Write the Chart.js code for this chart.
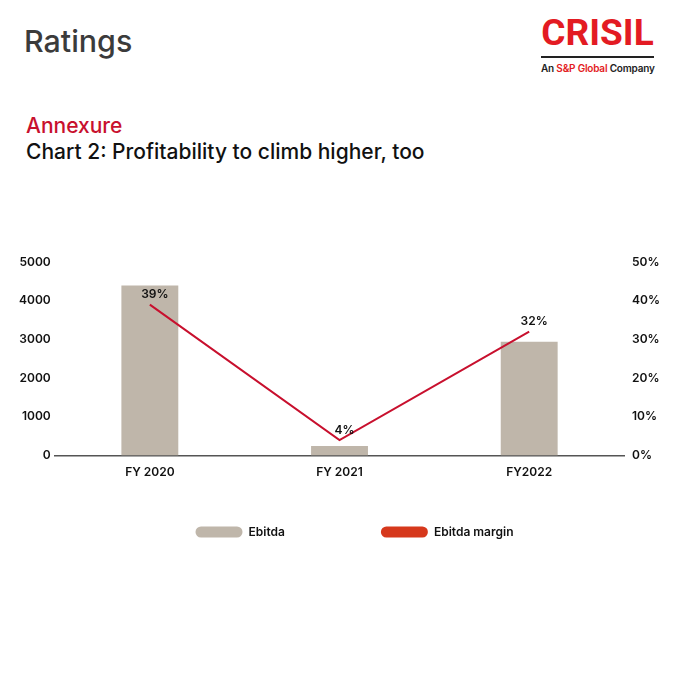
<!DOCTYPE html>
<html lang="en">
<head>
<meta charset="UTF-8">
<title>Chart 2: Profitability to climb higher, too</title>
<script src="https://cdn.jsdelivr.net/npm/chart.js@4.4.1/dist/chart.umd.min.js"></script>
<style>
  html, body { margin: 0; padding: 0; background: #fff; }
  body { width: 680px; height: 680px; position: relative; overflow: hidden; font-family: Inter, Roboto, sans-serif; }
  .txt { position: absolute; white-space: nowrap; line-height: 1; }
  #page-title { left: 24px; top: 26px; font-size: 30.4px; font-weight: 500; color: #3b3b3b; }
  #annex { left: 26px; top: 115px; font-size: 21px; font-weight: 500; color: #c8102e; }
  #chart-title { left: 26px; top: 141px; font-size: 21px; font-weight: 500; color: #111; }
  #logo { position: absolute; left: 541px; top: 14px; width: 113px; text-align: center; white-space: nowrap; }
  #logo .name { font-family: Roboto, sans-serif; font-size: 37px; font-weight: 700; color: #e31b23; line-height: 38px; }
  #logo .rule { height: 2px; background: #222; margin-top: 4px; }
  #logo .sub { font-size: 10px; font-weight: 600; color: #222; margin-top: 4px; letter-spacing: -0.2px; }
  #logo .sub span { color: #e31b23; }
  #wrap { position: absolute; left: 0; top: 240px; width: 680px; height: 320px; }
</style>
</head>
<body>
  <div class="txt" id="page-title">Ratings</div>
  <div id="logo">
    <div class="name">CRISIL</div>
    <div class="rule"></div>
    <div class="sub">An <span>S&amp;P Global</span> Company</div>
  </div>
  <div class="txt" id="annex">Annexure</div>
  <div class="txt" id="chart-title">Chart 2: Profitability to climb higher, too</div>
  <div id="wrap"><canvas id="chart"></canvas></div>

<script>
// values
const categories = ['FY 2020', 'FY 2021', 'FY2022'];
const ebitda = [4390, 250, 2940];
const ebitdaMargin = [39, 4, 32];
const leftTicks = [0, 1000, 2000, 3000, 4000, 5000];
const rightTicks = [0, 10, 20, 30, 40, 50];

const tickFont = { family: 'Inter', size: 12, weight: '600' };

// labels over the line points
const pointLabels = {
  id: 'pointLabels',
  afterDatasetsDraw(chart) {
    const ctx = chart.ctx;
    const meta = chart.getDatasetMeta(1);
    ctx.save();
    ctx.font = '600 12px Inter';
    ctx.fillStyle = '#111';
    ctx.textAlign = 'center';
    ctx.textBaseline = 'bottom';
    meta.data.forEach((pt, i) => {
      ctx.fillText(ebitdaMargin[i] + '%', pt.x + 5, pt.y - 4);
    });
    ctx.restore();
  }
};

new Chart(document.getElementById('chart'), {
  data: {
    labels: categories,
    datasets: [
      {
        type: 'bar',
        label: 'Ebitda',
        data: ebitda,
        backgroundColor: '#bfb6aa',
        yAxisID: 'y',
        categoryPercentage: 1,
        barPercentage: 0.3,
        order: 2
      },
      {
        type: 'line',
        label: 'Ebitda margin',
        data: ebitdaMargin,
        borderColor: '#c8102e',
        backgroundColor: '#d6381c',
        borderWidth: 2,
        pointRadius: 0,
        tension: 0,
        fill: false,
        yAxisID: 'y1',
        order: 1
      }
    ]
  },
  options: {
    responsive: true,
    maintainAspectRatio: false,
    animation: false,
    layout: { padding: { left: 41, right: 12, top: 22, bottom: 12 } },
    scales: {
      x: {
        grid: { display: false, drawTicks: false },
        border: { color: '#555', width: 1.5 },
        ticks: { color: '#111', font: tickFont, padding: 10 }
      },
      y: {
        position: 'left',
        min: 0,
        max: 5000,
        afterBuildTicks: (s) => { s.ticks = leftTicks.map(v => ({ value: v })); },
        afterFit: (s) => { s.width = 14; },
        grid: { display: false, drawTicks: false },
        border: { display: false },
        // mirrored so the labels are not clipped to the narrow axis box
        ticks: { color: '#111', font: tickFont, mirror: true, crossAlign: 'far', padding: -36, callback: (v) => String(v) }
      },
      y1: {
        position: 'right',
        min: 0,
        max: 50,
        afterBuildTicks: (s) => { s.ticks = rightTicks.map(v => ({ value: v })); },
        grid: { display: false, drawTicks: false },
        border: { display: false },
        ticks: { color: '#111', font: tickFont, padding: 8, callback: (v) => v + '%' }
      }
    },
    plugins: {
      tooltip: { enabled: false },
      legend: {
        position: 'bottom',
        labels: {
          color: '#111',
          font: { family: 'Inter', size: 12, weight: '600' },
          boxWidth: 47,
          boxHeight: 11,
          useBorderRadius: true,
          borderRadius: 5.5,
          padding: 36,
          sort: (a, b) => a.datasetIndex - b.datasetIndex,
          generateLabels(chart) {
            return Chart.defaults.plugins.legend.labels.generateLabels(chart).map(l => {
              l.lineWidth = 0;
              l.strokeStyle = 'transparent';
              // widen the first entry so the second sits where the original has it
              if (l.datasetIndex === 0) l.text = l.text + '\u2003\u2003\u2003\u2003\u2003';
              return l;
            });
          }
        }
      }
    }
  },
  plugins: [pointLabels]
});
</script>
</body>
</html>
